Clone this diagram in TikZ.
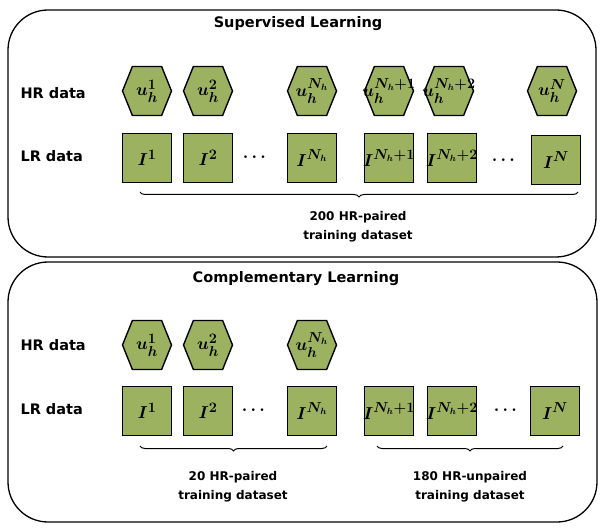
\documentclass[tikz,border=0pt]{standalone}
\usepackage{fontspec}
\setsansfont{DejaVu Sans}
\usepackage{amsmath}
\usepackage{bm}
\usetikzlibrary{shapes.symbols,decorations.pathreplacing}

\definecolor{datagreen}{RGB}{156,178,96}
% label of fixed zero width, so the shapes keep their size
\newcommand{\dlabel}[1]{\makebox[0pt]{$\bm{#1}$}}

\tikzset{
  hrbox/.style={shape=signal, signal to=west and east, signal pointer angle=136,
    draw, line width=1.4pt, fill=datagreen, minimum width=49pt, minimum height=49pt,
    inner sep=0pt, font=\fontsize{19}{19}\selectfont},
  lrbox/.style={rectangle, draw, line width=1.4pt, fill=datagreen, minimum size=49pt,
    inner sep=0pt, font=\fontsize{19}{19}\selectfont},
  dots/.style={font=\fontsize{16}{16}\selectfont},
  panel/.style={draw, line width=1.3pt, rounded corners=40pt},
  rowlbl/.style={anchor=west, font=\sffamily\bfseries\fontsize{14.5}{16}\selectfont},
  paneltitle/.style={font=\sffamily\bfseries\fontsize{14.5}{17}\selectfont},
  setlbl/.style={align=center, font=\sffamily\bfseries\fontsize{12}{19}\selectfont},
  setbrace/.style={decorate, decoration={brace, amplitude=5pt, mirror}, line width=1pt}
}

\begin{document}
\begin{tikzpicture}[x=1pt,y=-1pt]
  \useasboundingbox (0,0) rectangle (605,529);

  % supervised learning
  \draw[panel] (8,10) rectangle (596,257);
  \node[paneltitle] (sup) at (298,24) {Supervised Learning};
  \node[rowlbl] (suphr) at (17,93) {HR data};
  \node[rowlbl] (suplr) at (17,156) {LR data};
  \node[hrbox] (hu1) at (147,91) {\dlabel{u_h^1}};
  \node[hrbox] (hu2) at (208,91) {\dlabel{u_h^2}};
  \node[hrbox] (hu3) at (312,91) {\dlabel{u_h^{N_h}}};
  \node[hrbox] (hu4) at (389,91) {\dlabel{u_h^{N_h+1}}};
  \node[hrbox] (hu5) at (449,91) {\dlabel{u_h^{N_h+2}}};
  \node[hrbox] (hu6) at (552,91) {\dlabel{u_h^N}};
  \node[lrbox] (li1) at (147,158) {\dlabel{I^1}};
  \node[lrbox] (li2) at (208,158) {\dlabel{I^2}};
  \node[dots] (ld1) at (256,157) {$\bm{\cdots}$};
  \node[lrbox] (li3) at (312,158) {\dlabel{I^{N_h}}};
  \node[lrbox] (li4) at (389,158) {\dlabel{I^{N_h+1}}};
  \node[lrbox] (li5) at (452,158) {\dlabel{I^{N_h+2}}};
  \node[dots] (ld2) at (505,160) {$\bm{\cdots}$};
  \node[lrbox] (li6) at (556,160) {\dlabel{I^N}};
  \coordinate (sbl) at (140,192);
  \coordinate (sbr) at (578,192);
  \draw[setbrace] (sbl) -- (sbr);
  \node[setlbl] (supset) at (358,227) {200 HR-paired\\training dataset};

  % complementary learning
  \draw[panel] (8,262) rectangle (597,522);
  \node[paneltitle] (comp) at (296,279) {Complementary Learning};
  \node[rowlbl] (comphr) at (17,345) {HR data};
  \node[rowlbl] (complr) at (17,409) {LR data};
  \node[hrbox] (bu1) at (147,345) {\dlabel{u_h^1}};
  \node[hrbox] (bu2) at (208,345) {\dlabel{u_h^2}};
  \node[hrbox] (bu3) at (312,345) {\dlabel{u_h^{N_h}}};
  \node[lrbox] (bi1) at (147,411) {\dlabel{I^1}};
  \node[lrbox] (bi2) at (208,411) {\dlabel{I^2}};
  \node[dots] (bd1) at (255,410) {$\bm{\cdots}$};
  \node[lrbox] (bi3) at (312,411) {\dlabel{I^{N_h}}};
  \node[lrbox] (bi4) at (389,411) {\dlabel{I^{N_h+1}}};
  \node[lrbox] (bi5) at (452,411) {\dlabel{I^{N_h+2}}};
  \node[dots] (bd2) at (507,410) {$\bm{\cdots}$};
  \node[lrbox] (bi6) at (555,411) {\dlabel{I^N}};
  \coordinate (cbl1) at (140,446);
  \coordinate (cbr1) at (327,446);
  \coordinate (cbl2) at (377,446);
  \coordinate (cbr2) at (563,446);
  \draw[setbrace] (cbl1) -- (cbr1);
  \draw[setbrace] (cbl2) -- (cbr2);
  \node[setlbl] (pairset) at (233,487) {20 HR-paired\\training dataset};
  \node[setlbl] (unpairset) at (470,487) {180 HR-unpaired\\training dataset};
\end{tikzpicture}
\end{document}
